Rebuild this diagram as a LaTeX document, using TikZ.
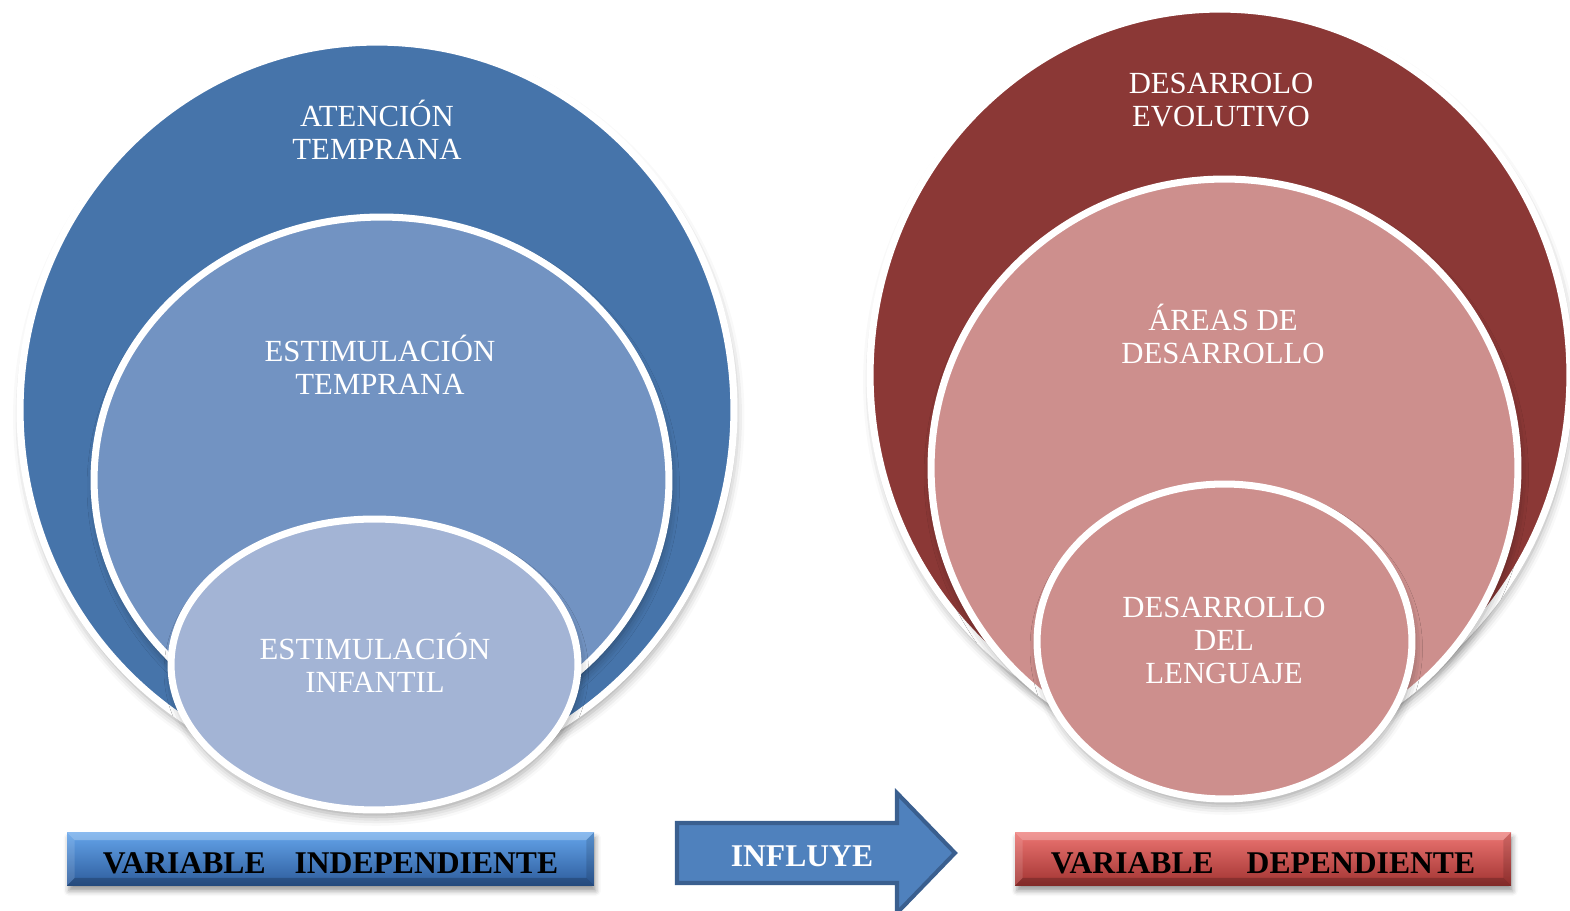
\documentclass[tikz,border=0pt]{standalone}
\usepackage{fontspec}
\setmainfont{Liberation Serif}
\usetikzlibrary{shadows.blur}

\definecolor{atenblue}{HTML}{4674AA}
\definecolor{estiblue}{HTML}{7293C2}
\definecolor{infblue}{HTML}{A3B4D5}
\definecolor{evored}{HTML}{8B3836}
\definecolor{areapink}{HTML}{CD8F8D}
\definecolor{arrowblue}{HTML}{4F81BD}
\definecolor{arrowedge}{HTML}{3A5F8F}
\definecolor{indeptop}{HTML}{64A4EA}
\definecolor{indepmid}{HTML}{3C7AC2}
\definecolor{indepbot}{HTML}{2D5C9C}
\definecolor{deptop}{HTML}{EC7572}
\definecolor{depmid}{HTML}{CF4442}
\definecolor{depbot}{HTML}{A23432}

\begin{document}
\begin{tikzpicture}[x=0.02cm, y=-0.02cm,
    ring/.style={draw=white, line width=4pt,
      blur shadow={shadow xshift=1pt, shadow yshift=-4pt, shadow blur radius=5pt, shadow opacity=35}},
    label/.style={text=white, font=\fontsize{17.5}{19}\selectfont, align=center, anchor=base, inner sep=0pt},
    varbox/.style={minimum height=1.06cm, inner sep=0pt, text height=16pt, text depth=0pt,
      font=\fontsize{18}{20}\selectfont\bfseries,
      blur shadow={shadow xshift=1pt, shadow yshift=-3pt, shadow blur radius=3pt, shadow opacity=40}}]

  \useasboundingbox (0,0) rectangle (1570,911);

  % Draw the independent variable circles
  \draw[ring, fill=atenblue] (377,410) ellipse [x radius=7.14cm, y radius=7.36cm];
  \draw[ring, fill=estiblue] (381.5,480) ellipse [x radius=5.75cm, y radius=5.26cm];
  \draw[ring, fill=infblue] (374.5,664.5) ellipse [x radius=4.07cm, y radius=2.91cm];

  \node[label] (aten) at (377,160) {ATENCIÓN\\TEMPRANA};
  \node[label] (estitemp) at (380,395) {ESTIMULACIÓN\\TEMPRANA};
  \node[label] (estiinf) at (375,693) {ESTIMULACIÓN\\INFANTIL};

  % Draw the dependent variable circles
  \draw[ring, fill=evored] (1220,375) ellipse [x radius=7.0cm, y radius=7.32cm];
  \draw[ring, fill=areapink] (1224.5,468) ellipse [x radius=5.87cm, y radius=5.78cm];
  \draw[ring, fill=areapink] (1224.5,641.5) ellipse [x radius=3.75cm, y radius=3.15cm];

  \node[label] (evol) at (1221,127) {DESARROLO\\EVOLUTIVO};
  \node[label] (areas) at (1223,364) {ÁREAS DE\\DESARROLLO};
  \node[label] (lenguaje) at (1224,684) {DESARROLLO\\DEL\\LENGUAJE};

  % Labels for the two variables
  \node[varbox, minimum width=10.54cm, top color=indeptop, middle color=indepmid, bottom color=indepbot]
    (indep) at (330.5,859) {VARIABLE\hspace{16.5pt}INDEPENDIENTE};
  \node[varbox, minimum width=9.92cm, top color=deptop, middle color=depmid, bottom color=depbot]
    (dep) at (1263,859) {VARIABLE\hspace{18.8pt}DEPENDIENTE};

  % Bevel edges of the labels
  \foreach \b in {indep, dep} {
    \fill[white, opacity=0.25] (\b.north west) -- (\b.north east) -- ([shift={(-8,8)}]\b.north east) -- ([shift={(8,8)}]\b.north west) -- cycle;
    \fill[white, opacity=0.12] (\b.north west) -- ([shift={(8,8)}]\b.north west) -- ([shift={(8,-8)}]\b.south west) -- (\b.south west) -- cycle;
    \fill[black, opacity=0.2] (\b.south west) -- (\b.south east) -- ([shift={(-8,-8)}]\b.south east) -- ([shift={(8,-8)}]\b.south west) -- cycle;
    \fill[black, opacity=0.12] (\b.north east) -- ([shift={(-8,8)}]\b.north east) -- ([shift={(-8,-8)}]\b.south east) -- (\b.south east) -- cycle;
  }

  % Draw the arrow between them
  \draw[fill=arrowblue, draw=arrowedge, line width=2.3pt, line join=miter]
    (677,823) -- (897,823) -- (897,793) -- (955,853) -- (897,913) -- (897,883) -- (677,883) -- cycle;
  \node[text=white, font=\fontsize{18}{20}\selectfont\bfseries, inner sep=0pt] (influye) at (802,856) {INFLUYE};

\end{tikzpicture}
\end{document}
